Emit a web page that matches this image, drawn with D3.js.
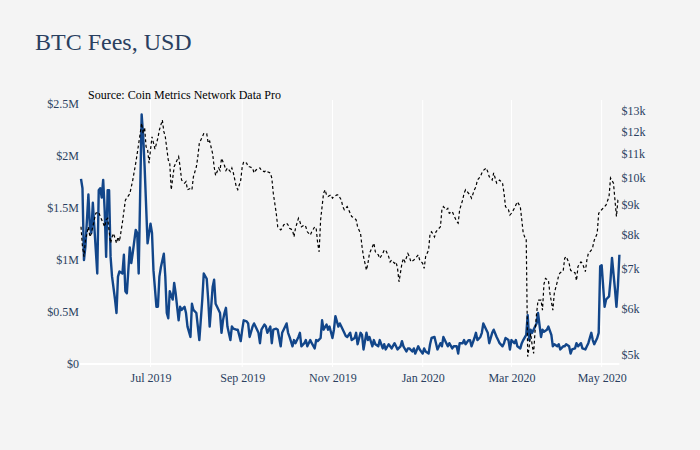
<!DOCTYPE html>
<html>
<head>
<meta charset="utf-8">
<script src="https://cdn.jsdelivr.net/npm/d3@7"></script>
<style>
  html, body { margin: 0; padding: 0; background: #f4f4f4; }
  svg { display: block; }
</style>
</head>
<body>
<div id="stage"></div>
<script>
// BTC daily fees (USD millions)
const feeDates = [
  '2019-05-15','2019-05-16','2019-05-17','2019-05-18','2019-05-20','2019-05-21','2019-05-22','2019-05-23','2019-05-24','2019-05-26',
  '2019-05-27','2019-05-28','2019-05-29','2019-05-30','2019-05-31','2019-06-01','2019-06-02','2019-06-03','2019-06-04','2019-06-05',
  '2019-06-07','2019-06-08','2019-06-09','2019-06-10','2019-06-12','2019-06-13','2019-06-14','2019-06-15','2019-06-17','2019-06-18',
  '2019-06-19','2019-06-21','2019-06-22','2019-06-23','2019-06-24','2019-06-25','2019-06-26','2019-06-27','2019-06-29','2019-07-01',
  '2019-07-02','2019-07-03','2019-07-05','2019-07-06','2019-07-07','2019-07-08','2019-07-10','2019-07-11','2019-07-12','2019-07-13',
  '2019-07-14','2019-07-16','2019-07-17','2019-07-18','2019-07-20','2019-07-21','2019-07-22','2019-07-24','2019-07-25','2019-07-26',
  '2019-07-28','2019-07-29','2019-07-30','2019-08-01','2019-08-02','2019-08-03','2019-08-05','2019-08-06','2019-08-08','2019-08-09',
  '2019-08-10','2019-08-12','2019-08-13','2019-08-14','2019-08-15','2019-08-17','2019-08-18','2019-08-19','2019-08-20','2019-08-21',
  '2019-08-22','2019-08-24','2019-08-25','2019-08-26','2019-08-28','2019-08-29','2019-08-31','2019-09-01','2019-09-02','2019-09-04',
  '2019-09-05','2019-09-06','2019-09-08','2019-09-09','2019-09-10','2019-09-12','2019-09-13','2019-09-14','2019-09-16','2019-09-17',
  '2019-09-18','2019-09-20','2019-09-21','2019-09-22','2019-09-24','2019-09-25','2019-09-27','2019-09-28','2019-09-29','2019-10-01',
  '2019-10-02','2019-10-03','2019-10-05','2019-10-06','2019-10-07','2019-10-09','2019-10-10','2019-10-11','2019-10-13','2019-10-14',
  '2019-10-15','2019-10-17','2019-10-18','2019-10-20','2019-10-21','2019-10-22','2019-10-24','2019-10-25','2019-10-26','2019-10-28',
  '2019-10-29','2019-10-30','2019-11-01','2019-11-02','2019-11-03','2019-11-05','2019-11-06','2019-11-07','2019-11-09','2019-11-10',
  '2019-11-11','2019-11-13','2019-11-14','2019-11-16','2019-11-17','2019-11-18','2019-11-20','2019-11-21','2019-11-22','2019-11-24',
  '2019-11-25','2019-11-26','2019-11-28','2019-11-29','2019-11-30','2019-12-02','2019-12-03','2019-12-05','2019-12-06','2019-12-07',
  '2019-12-09','2019-12-10','2019-12-11','2019-12-13','2019-12-14','2019-12-15','2019-12-17','2019-12-18','2019-12-19','2019-12-21',
  '2019-12-22','2019-12-23','2019-12-25','2019-12-26','2019-12-27','2019-12-29','2019-12-30','2020-01-01','2020-01-02','2020-01-03',
  '2020-01-05','2020-01-06','2020-01-07','2020-01-09','2020-01-10','2020-01-11','2020-01-13','2020-01-14','2020-01-15','2020-01-17',
  '2020-01-18','2020-01-19','2020-01-21','2020-01-22','2020-01-24','2020-01-25','2020-01-26','2020-01-28','2020-01-29','2020-01-30',
  '2020-02-01','2020-02-02','2020-02-03','2020-02-05','2020-02-06','2020-02-07','2020-02-09','2020-02-10','2020-02-11','2020-02-13',
  '2020-02-14','2020-02-15','2020-02-17','2020-02-18','2020-02-20','2020-02-21','2020-02-22','2020-02-24','2020-02-25','2020-02-26',
  '2020-02-28','2020-02-29','2020-03-01','2020-03-03','2020-03-04','2020-03-05','2020-03-07','2020-03-08','2020-03-09','2020-03-11',
  '2020-03-12','2020-03-13','2020-03-14','2020-03-15','2020-03-17','2020-03-18','2020-03-19','2020-03-21','2020-03-22','2020-03-23',
  '2020-03-25','2020-03-26','2020-03-28','2020-03-29','2020-03-30','2020-04-01','2020-04-02','2020-04-03','2020-04-05','2020-04-06',
  '2020-04-07','2020-04-09','2020-04-10','2020-04-11','2020-04-13','2020-04-14','2020-04-15','2020-04-17','2020-04-18','2020-04-20',
  '2020-04-21','2020-04-22','2020-04-24','2020-04-25','2020-04-26','2020-04-28','2020-04-29','2020-04-30','2020-05-01','2020-05-03',
  '2020-05-04','2020-05-06','2020-05-07','2020-05-08','2020-05-10','2020-05-11','2020-05-12','2020-05-13'
];
const feeValues = [
  1.78,1.69,1.00,1.13,1.63,1.32,1.26,1.55,1.32,0.87,
  1.67,1.69,1.60,1.77,1.48,1.03,1.67,1.67,1.03,0.84,
  0.62,0.49,0.84,0.89,0.87,1.05,0.70,0.68,1.12,0.97,
  1.07,1.29,1.26,0.87,1.64,2.40,2.20,1.90,1.16,1.35,
  1.26,0.90,0.55,0.55,0.84,0.93,1.06,0.84,0.49,0.44,
  0.70,0.62,0.78,0.68,0.42,0.55,0.52,0.55,0.49,0.36,
  0.26,0.58,0.52,0.49,0.36,0.23,0.62,0.87,0.82,0.62,
  0.36,0.74,0.81,0.58,0.55,0.49,0.30,0.42,0.49,0.54,
  0.36,0.23,0.36,0.34,0.33,0.33,0.22,0.33,0.42,0.41,
  0.39,0.26,0.36,0.39,0.36,0.30,0.20,0.33,0.38,0.36,
  0.30,0.36,0.20,0.33,0.34,0.33,0.17,0.30,0.33,0.39,
  0.30,0.26,0.17,0.23,0.20,0.26,0.30,0.17,0.20,0.23,
  0.17,0.23,0.20,0.15,0.23,0.22,0.25,0.42,0.33,0.38,
  0.33,0.36,0.25,0.33,0.46,0.36,0.39,0.36,0.30,0.27,
  0.26,0.30,0.23,0.25,0.30,0.19,0.30,0.28,0.14,0.30,
  0.23,0.26,0.17,0.23,0.19,0.17,0.23,0.15,0.19,0.14,
  0.19,0.17,0.15,0.20,0.17,0.14,0.17,0.22,0.17,0.12,
  0.15,0.15,0.12,0.15,0.10,0.17,0.14,0.10,0.15,0.12,
  0.10,0.19,0.25,0.26,0.20,0.14,0.20,0.17,0.26,0.20,
  0.17,0.20,0.15,0.17,0.17,0.10,0.20,0.20,0.23,0.19,
  0.23,0.23,0.17,0.25,0.30,0.23,0.26,0.30,0.39,0.33,
  0.30,0.20,0.30,0.33,0.26,0.23,0.20,0.17,0.20,0.25,
  0.23,0.14,0.23,0.20,0.23,0.17,0.15,0.20,0.23,0.28,
  0.47,0.23,0.33,0.30,0.36,0.39,0.49,0.26,0.33,0.31,
  0.33,0.36,0.28,0.17,0.19,0.17,0.19,0.14,0.17,0.17,
  0.19,0.17,0.10,0.14,0.15,0.20,0.17,0.20,0.15,0.14,
  0.17,0.20,0.30,0.23,0.19,0.25,0.30,0.94,0.95,0.55,
  0.62,0.65,0.81,1.02,0.72,0.55,0.75,1.05
];

// BTC price (USD thousands)
const priceDates = [
  '2019-05-15','2019-05-16','2019-05-17','2019-05-18','2019-05-20','2019-05-21','2019-05-22','2019-05-24','2019-05-25','2019-05-27',
  '2019-05-28','2019-05-29','2019-05-31','2019-06-01','2019-06-02','2019-06-04','2019-06-05','2019-06-06','2019-06-08','2019-06-09',
  '2019-06-10','2019-06-12','2019-06-14','2019-06-17','2019-06-19','2019-06-21','2019-06-22','2019-06-24','2019-06-25','2019-06-26',
  '2019-06-27','2019-06-28','2019-06-29','2019-06-30','2019-07-02','2019-07-04','2019-07-06','2019-07-07','2019-07-09','2019-07-10',
  '2019-07-11','2019-07-13','2019-07-14','2019-07-15','2019-07-17','2019-07-18','2019-07-20','2019-07-21','2019-07-22','2019-07-24',
  '2019-07-25','2019-07-26','2019-07-28','2019-07-29','2019-07-30','2019-08-01','2019-08-02','2019-08-03','2019-08-05','2019-08-06',
  '2019-08-08','2019-08-09','2019-08-10','2019-08-12','2019-08-13','2019-08-14','2019-08-16','2019-08-17','2019-08-18','2019-08-20',
  '2019-08-21','2019-08-22','2019-08-24','2019-08-25','2019-08-26','2019-08-28','2019-08-29','2019-08-31','2019-09-01','2019-09-02',
  '2019-09-04','2019-09-05','2019-09-06','2019-09-08','2019-09-09','2019-09-10','2019-09-12','2019-09-13','2019-09-14','2019-09-16',
  '2019-09-17','2019-09-18','2019-09-20','2019-09-21','2019-09-22','2019-09-24','2019-09-25','2019-09-27','2019-09-28','2019-09-29',
  '2019-10-01','2019-10-02','2019-10-03','2019-10-05','2019-10-06','2019-10-07','2019-10-09','2019-10-10','2019-10-11','2019-10-13',
  '2019-10-14','2019-10-15','2019-10-17','2019-10-18','2019-10-20','2019-10-21','2019-10-22','2019-10-23','2019-10-24','2019-10-26',
  '2019-10-27','2019-10-28','2019-10-29','2019-10-31','2019-11-01','2019-11-02','2019-11-04','2019-11-05','2019-11-07','2019-11-08',
  '2019-11-09','2019-11-11','2019-11-12','2019-11-13','2019-11-14','2019-11-16','2019-11-17','2019-11-18','2019-11-20','2019-11-21',
  '2019-11-22','2019-11-24','2019-11-25','2019-11-26','2019-11-28','2019-11-29','2019-11-30','2019-12-02','2019-12-03','2019-12-05',
  '2019-12-06','2019-12-07','2019-12-09','2019-12-10','2019-12-11','2019-12-13','2019-12-14','2019-12-15','2019-12-16','2019-12-18',
  '2019-12-19','2019-12-20','2019-12-22','2019-12-23','2019-12-24','2019-12-26','2019-12-28','2019-12-29','2019-12-30','2020-01-01',
  '2020-01-02','2020-01-03','2020-01-05','2020-01-06','2020-01-07','2020-01-09','2020-01-10','2020-01-11','2020-01-13','2020-01-14',
  '2020-01-15','2020-01-17','2020-01-18','2020-01-19','2020-01-21','2020-01-22','2020-01-24','2020-01-25','2020-01-26','2020-01-28',
  '2020-01-29','2020-01-30','2020-02-01','2020-02-02','2020-02-03','2020-02-05','2020-02-06','2020-02-07','2020-02-09','2020-02-10',
  '2020-02-11','2020-02-13','2020-02-14','2020-02-15','2020-02-17','2020-02-18','2020-02-20','2020-02-21','2020-02-22','2020-02-24',
  '2020-02-25','2020-02-26','2020-02-28','2020-02-29','2020-03-01','2020-03-03','2020-03-04','2020-03-05','2020-03-07','2020-03-08',
  '2020-03-09','2020-03-10','2020-03-11','2020-03-12','2020-03-13','2020-03-14','2020-03-15','2020-03-16','2020-03-17','2020-03-18',
  '2020-03-19','2020-03-21','2020-03-22','2020-03-23','2020-03-24','2020-03-26','2020-03-27','2020-03-29','2020-03-30','2020-04-01',
  '2020-04-02','2020-04-03','2020-04-05','2020-04-06','2020-04-07','2020-04-09','2020-04-10','2020-04-11','2020-04-13','2020-04-14',
  '2020-04-15','2020-04-17','2020-04-18','2020-04-20','2020-04-21','2020-04-22','2020-04-24','2020-04-25','2020-04-26','2020-04-28',
  '2020-04-29','2020-05-01','2020-05-03','2020-05-04','2020-05-06','2020-05-07','2020-05-09','2020-05-10','2020-05-11','2020-05-12',
  '2020-05-13'
];
const priceValues = [
  8.26,7.64,7.35,7.84,8.26,7.94,8.05,8.49,8.71,8.75,
  8.60,8.49,8.26,8.49,8.54,7.75,7.94,8.05,7.75,7.94,
  7.80,8.40,9.17,9.40,9.92,10.6,11.0,11.9,12.4,11.9,
  12.2,11.3,11.2,10.6,11.75,11.2,11.7,12.07,12.55,12.0,
  11.75,10.73,10.6,9.55,10.45,10.6,10.87,10.45,9.92,9.80,
  9.86,9.55,9.60,9.55,10.05,10.45,10.87,11.46,11.75,11.9,
  11.9,11.46,11.55,11.0,10.45,10.1,10.4,10.3,10.8,10.5,
  10.3,10.4,10.25,10.4,10.2,9.66,9.55,9.92,10.45,10.66,
  10.6,10.45,10.45,10.4,10.2,10.3,10.4,10.4,10.3,10.25,
  10.3,10.25,10.2,10.0,9.42,8.71,8.26,8.16,8.21,8.32,
  8.38,8.32,8.21,8.16,7.94,8.21,8.54,8.43,8.26,8.32,
  8.26,8.10,8.00,8.10,8.26,8.21,7.75,7.49,8.49,9.42,
  9.55,9.36,9.30,9.36,9.24,9.30,9.36,9.36,9.17,8.94,
  8.83,8.94,8.83,8.71,8.60,8.54,8.49,8.26,8.05,7.64,
  7.35,6.97,7.16,7.44,7.64,7.75,7.49,7.40,7.30,7.44,
  7.54,7.54,7.35,7.20,7.25,7.16,7.20,7.02,6.66,7.16,
  7.30,7.20,7.44,7.35,7.20,7.25,7.35,7.40,7.25,7.16,
  7.02,7.35,7.54,8.05,8.10,7.94,8.10,8.16,8.26,8.83,
  8.94,8.83,8.88,8.71,8.77,8.65,8.43,8.38,8.83,9.17,
  9.42,9.55,9.42,9.36,9.24,9.55,9.66,9.92,10.05,10.2,
  10.3,10.4,10.25,10.05,9.92,10.2,9.80,9.86,9.92,9.80,
  9.42,8.94,8.83,8.65,8.71,8.88,9.00,9.11,8.94,8.49,
  8.05,7.94,7.90,4.97,5.16,5.44,5.20,5.03,5.50,5.88,
  6.20,6.20,5.96,6.60,6.75,6.70,6.37,5.96,6.37,6.66,
  6.84,6.90,6.95,7.30,7.35,7.16,6.97,6.93,6.90,6.69,
  7.07,7.20,7.16,6.93,7.25,7.44,7.54,7.64,7.84,8.05,
  8.71,8.83,8.94,9.00,9.30,10.0,9.80,9.17,8.60,9.17,
  9.20
];

const feeTicks = [0, 0.5, 1, 1.5, 2, 2.5];
const priceTicks = [5, 6, 7, 8, 9, 10, 11, 12, 13];

const W = 700, H = 450;
const pL = 81, pR = 619.4, pT = 100, pB = 367;
const SERIF = '"Liberation Serif", "Times New Roman", Times, serif';
const INK = '#2a3f5f';

const parse = d3.utcParse('%Y-%m-%d');
const fees = feeDates.map((d, i) => ({ date: parse(d), v: feeValues[i] }));
const prices = priceDates.map((d, i) => ({ date: parse(d), v: priceValues[i] }));

const svg = d3.select('#stage').append('svg').attr('width', W).attr('height', H);
svg.append('rect').attr('width', W).attr('height', H).attr('fill', '#f4f4f4');

const x = d3.scaleUtc().domain(d3.extent(fees, d => d.date)).range([pL, pR]);
const yFee = d3.scaleLinear().domain([0, 2.5]).range([364, 104]);
const yPrice = d3.scaleLog().domain([5, 13]).range([355, 111]);

// vertical grid at the date ticks, white zero line
const xTicks = x.ticks(d3.utcMonth.every(2));
svg.append('g').selectAll('line').data(xTicks).join('line')
  .attr('x1', d => x(d)).attr('x2', d => x(d)).attr('y1', pT).attr('y2', pB)
  .attr('stroke', '#ffffff').attr('stroke-width', 1);
svg.append('line').attr('x1', pL - 1).attr('x2', pR).attr('y1', yFee(0)).attr('y2', yFee(0))
  .attr('stroke', '#ffffff').attr('stroke-width', 2);

const styleAxis = g => {
  g.select('.domain').remove();
  g.attr('font-family', SERIF).attr('font-size', 12);
  g.selectAll('text').attr('fill', INK);
};

svg.append('g').attr('transform', `translate(0,${pB})`)
  .call(d3.axisBottom(x).tickValues(xTicks).tickFormat(d3.utcFormat('%b %Y')).tickSize(0).tickPadding(6.5))
  .call(styleAxis);
svg.append('g').attr('transform', `translate(${pL},0)`)
  .call(d3.axisLeft(yFee).tickValues(feeTicks).tickFormat(d => d === 0 ? '$0' : `$${d}M`).tickSize(0).tickPadding(2))
  .call(styleAxis);
svg.append('g').attr('transform', `translate(${pR},0)`)
  .call(d3.axisRight(yPrice).tickValues(priceTicks).tickFormat(d => `$${d}k`).tickSize(0).tickPadding(2))
  .call(styleAxis);

// fees (left axis) then price (right axis, dashed) on top
svg.append('path').datum(fees)
  .attr('d', d3.line().x(d => x(d.date)).y(d => yFee(d.v)))
  .attr('fill', 'none').attr('stroke', '#12468a').attr('stroke-width', 2.4).attr('stroke-linejoin', 'round');
svg.append('path').datum(prices)
  .attr('d', d3.line().x(d => x(d.date)).y(d => yPrice(d.v)))
  .attr('fill', 'none').attr('stroke', '#000000').attr('stroke-width', 1.2).attr('stroke-dasharray', '3,2.5');

svg.append('text').attr('x', 35).attr('y', 50)
  .attr('font-family', SERIF).attr('font-size', 24).attr('fill', INK).text('BTC Fees, USD');
svg.append('text').attr('x', 88).attr('y', 99)
  .attr('font-family', SERIF).attr('font-size', 12).attr('fill', '#000000').text('Source: Coin Metrics Network Data Pro');
</script>
</body>
</html>
